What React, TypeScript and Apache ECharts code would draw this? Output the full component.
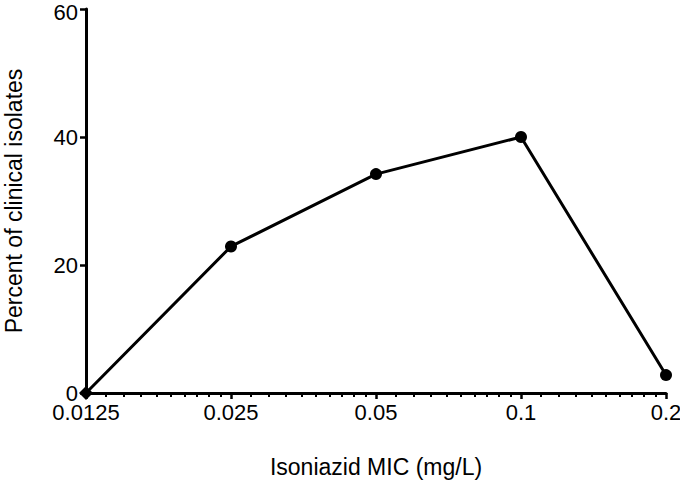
import React, { useEffect, useRef } from "react";
import * as echarts from "echarts";

const micValues = [0.0125, 0.025, 0.05, 0.1, 0.2];
const tickLabels = ["0.0125", "0.025", "0.05", "0.1", "0.2"];
const percentIsolates = [0, 22.9, 34.2, 40.0, 2.8];
const yTicks = [0, 20, 40, 60];

// minor ticks: linear steps of a tenth of each doubling interval
const minorTicks: number[] = [];
for (let i = 0; i < micValues.length - 1; i++) {
  const a = micValues[i];
  for (let k = 1; k <= 9; k++) minorTicks.push(+(a + (k * a) / 10).toPrecision(6));
}

const FONT = "'Liberation Sans', Arial, Helvetica, sans-serif";

export default function App() {
  const ref = useRef<HTMLDivElement>(null);
  useEffect(() => {
    if (!ref.current) return;
    const chart = echarts.init(ref.current, null, { renderer: "svg" });
    const data = micValues.map((x, i) => ({
      value: [x, percentIsolates[i]],
      symbol: i === 0 ? "diamond" : "circle",
      symbolSize: i === 0 ? 14 : 12,
    }));
    chart.setOption({
      animation: false,
      backgroundColor: "#fff",
      grid: {
        left: 86,
        right: 14,
        top: 9,
        bottom: 88,
        containLabel: false,
        outerBoundsMode: "none",
      },
      xAxis: [
        {
          type: "log",
          logBase: 2,
          min: micValues[0],
          max: micValues[micValues.length - 1],
          position: "bottom",
          name: "Isoniazid MIC (mg/L)",
          nameLocation: "middle",
          nameGap: 62,
          nameTextStyle: { color: "#000", fontSize: 23, fontFamily: FONT },
          axisLine: { show: true, lineStyle: { color: "#000", width: 3 } },
          axisTick: {
            show: true,
            inside: false,
            length: 6,
            lineStyle: { color: "#000", width: 2.5 },
            customValues: micValues,
          },
          axisLabel: {
            show: true,
            color: "#000",
            fontSize: 22,
            fontFamily: FONT,
            margin: 8,
            customValues: micValues,
            formatter: (v: number) => {
              let best = 0;
              for (let i = 1; i < micValues.length; i++)
                if (Math.abs(Math.log(micValues[i] / v)) < Math.abs(Math.log(micValues[best] / v))) best = i;
              return tickLabels[best];
            },
          },
          splitLine: { show: false },
          minorTick: { show: false },
        },
        {
          type: "log",
          logBase: 2,
          min: micValues[0],
          max: micValues[micValues.length - 1],
          position: "bottom",
          offset: 0,
          axisLine: { show: false },
          axisTick: {
            show: true,
            length: 4,
            lineStyle: { color: "#000", width: 2 },
            customValues: minorTicks,
          },
          axisLabel: { show: false },
          splitLine: { show: false },
        },
      ],
      yAxis: {
        type: "value",
        min: 0,
        max: 60,
        interval: 20,
        name: "Percent of clinical isolates",
        nameLocation: "middle",
        nameGap: 61,
        nameTextStyle: { color: "#000", fontSize: 23, fontFamily: FONT },
        axisLine: { show: true, lineStyle: { color: "#000", width: 3 } },
        axisTick: { show: true, length: 6, lineStyle: { color: "#000", width: 2.5 } },
        axisLabel: {
          color: "#000",
          fontSize: 22,
          fontFamily: FONT,
          margin: 8,
          formatter: (v: number) => {
            if (!yTicks.includes(v)) return "";
            return v === yTicks[yTicks.length - 1] ? `{t|${v}}` : String(v);
          },
          rich: {
            t: { color: "#000", fontSize: 22, fontFamily: FONT, padding: [6, 0, 0, 0] },
          },
        },
        splitLine: { show: false },
      },
      series: [
        {
          type: "line",
          xAxisIndex: 0,
          data,
          lineStyle: { color: "#000", width: 3 },
          itemStyle: { color: "#000" },
          showSymbol: true,
          clip: false,
          z: 5,
        },
      ],
    });
    return () => chart.dispose();
  }, []);
  return <div ref={ref} style={{ width: 680, height: 481, position: "absolute", left: 0, top: 0 }} />;
}
